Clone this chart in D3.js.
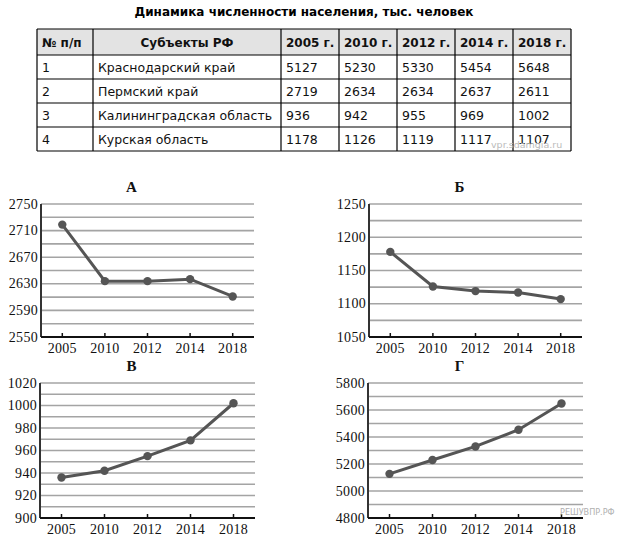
<!DOCTYPE html>
<html>
<head>
<meta charset="utf-8">
<script src="https://cdn.jsdelivr.net/npm/d3@7"></script>
<style>
  body { margin: 0; background: #fff; }
  svg { display: block; }
  .tbl text { font-family: "DejaVu Sans", Verdana, sans-serif; font-size: 12.5px; fill: #111; }
  .tbl .hd { font-weight: bold; font-size: 12px; }
  .ch text { font-family: "Liberation Serif", "Times New Roman", serif; fill: #111; }
</style>
</head>
<body>
<script>
var years = ['2005', '2010', '2012', '2014', '2018']
var regions = ['Краснодарский край', 'Пермский край', 'Калининградская область', 'Курская область']
var krasnodar = [5127, 5230, 5330, 5454, 5648]
var perm = [2719, 2634, 2634, 2637, 2611]
var kaliningrad = [936, 942, 955, 969, 1002]
var kursk = [1178, 1126, 1119, 1117, 1107]
var rows = [krasnodar, perm, kaliningrad, kursk]

// charts: title, values, y domain, grid step, label step
var charts = [
  {title: 'А', vals: perm, domain: [2550, 2750], grid: 20, lab: 40, x: 41, y: 204, w: 213, h: 133},
  {title: 'Б', vals: kursk, domain: [1050, 1250], grid: 25, lab: 50, x: 369, y: 204, w: 213, h: 133},
  {title: 'В', vals: kaliningrad, domain: [900, 1020], grid: 10, lab: 20, x: 40, y: 383, w: 215, h: 135},
  {title: 'Г', vals: krasnodar, domain: [4800, 5800], grid: 100, lab: 200, x: 368, y: 383, w: 215, h: 135}
]

var svg = d3.select('body').append('svg').attr('width', 635).attr('height', 546)

// title
svg.append('text')
  .attr('x', 304).attr('y', 16)
  .attr('text-anchor', 'middle')
  .style('font-family', '"DejaVu Sans", Verdana, sans-serif')
  .style('font-weight', 'bold').style('font-size', '12px')
  .text('Динамика численности населения, тыс. человек')

// table
var colX = [37, 93, 281, 339, 397, 455, 513, 571]
var rowY = [29, 55, 79, 103, 127, 151]
var tbl = svg.append('g').attr('class', 'tbl')

tbl.append('rect')
  .attr('x', colX[0]).attr('y', rowY[0])
  .attr('width', colX[7] - colX[0]).attr('height', rowY[1] - rowY[0])
  .attr('fill', '#e3e3e3')

var header = ['№ п/п', 'Субъекты РФ'].concat(years.map(d => d + ' г.'))
tbl.selectAll('text.hd').data(header).join('text')
  .attr('class', 'hd')
  .attr('x', (d, i) => i == 1 ? (colX[1] + colX[2]) / 2 : colX[i] + 5)
  .attr('text-anchor', (d, i) => i == 1 ? 'middle' : 'start')
  .attr('y', (rowY[0] + rowY[1]) / 2 + 5)
  .text(d => d)

rows.forEach((vals, r) => {
  var cells = [String(r + 1), regions[r]].concat(vals.map(String))
  tbl.selectAll('text.r' + r).data(cells).join('text')
    .attr('class', 'r' + r)
    .attr('x', (d, i) => colX[i] + 5)
    .attr('y', (rowY[r + 1] + rowY[r + 2]) / 2 + 5)
    .text(d => d)
})

tbl.selectAll('line.h').data(rowY).join('line')
  .attr('class', 'h')
  .attr('x1', colX[0]).attr('x2', colX[7])
  .attr('y1', d => d).attr('y2', d => d)
  .attr('stroke', '#000').attr('stroke-width', 1.2)
tbl.selectAll('line.v').data(colX).join('line')
  .attr('class', 'v')
  .attr('y1', rowY[0]).attr('y2', rowY[5])
  .attr('x1', d => d).attr('x2', d => d)
  .attr('stroke', '#000').attr('stroke-width', 1.2)

svg.append('text')
  .attr('x', 491).attr('y', 148)
  .style('font-family', '"DejaVu Sans", sans-serif').style('font-size', '9.5px')
  .attr('fill', '#bbb')
  .text('vpr.sdamgia.ru')

// line charts
charts.forEach(c => {
  var g = svg.append('g').attr('class', 'ch')
  var x = d3.scalePoint().domain(years).range([c.x, c.x + c.w]).padding(0.5)
  var y = d3.scaleLinear().domain(c.domain).range([c.y + c.h, c.y])

  var grid = d3.range(c.domain[0] + c.grid, c.domain[1] + c.grid / 2, c.grid)
  g.selectAll('line.grid').data(grid).join('line')
    .attr('x1', c.x).attr('x2', c.x + c.w)
    .attr('y1', d => y(d)).attr('y2', d => y(d))
    .attr('stroke', '#a4a4a4').attr('stroke-width', 1.6)

  var labs = d3.range(c.domain[0], c.domain[1] + c.lab / 2, c.lab)
  g.selectAll('text.yl').data(labs).join('text')
    .attr('x', c.x - 3).attr('y', d => y(d) + 4.5)
    .attr('text-anchor', 'end')
    .style('font-size', '14px').style('letter-spacing', '0.3px')
    .text(d => d)

  g.append('line')
    .attr('x1', c.x).attr('x2', c.x)
    .attr('y1', c.y).attr('y2', c.y + c.h)
    .attr('stroke', '#333').attr('stroke-width', 2)
  g.append('line')
    .attr('x1', c.x).attr('x2', c.x + c.w)
    .attr('y1', c.y + c.h).attr('y2', c.y + c.h)
    .attr('stroke', '#111').attr('stroke-width', 2)

  g.selectAll('line.tk').data(years).join('line')
    .attr('x1', d => x(d)).attr('x2', d => x(d))
    .attr('y1', c.y + c.h).attr('y2', c.y + c.h - 4)
    .attr('stroke', '#111').attr('stroke-width', 1.5)
  g.selectAll('text.xl').data(years).join('text')
    .attr('x', d => x(d)).attr('y', c.y + c.h + 16)
    .attr('text-anchor', 'middle')
    .style('font-size', '14px').style('letter-spacing', '0.3px')
    .text(d => d)

  g.append('text')
    .attr('x', c.x + c.w / 2 - 16).attr('y', c.y - 12)
    .attr('text-anchor', 'middle')
    .style('font-size', '15px').style('font-weight', 'bold')
    .text(c.title)

  g.append('path')
    .datum(c.vals)
    .attr('d', d3.line().x((d, i) => x(years[i])).y(d => y(d)))
    .attr('fill', 'none').attr('stroke', '#555').attr('stroke-width', 3)
  g.selectAll('circle').data(c.vals).join('circle')
    .attr('cx', (d, i) => x(years[i])).attr('cy', d => y(d))
    .attr('r', 4.2).attr('fill', '#555')
})

svg.append('text')
  .attr('x', 560).attr('y', 515)
  .style('font-family', '"DejaVu Sans Condensed", "DejaVu Sans", sans-serif').style('font-size', '9px')
  .attr('fill', '#b0b0b0')
  .text('РЕШУВПР.РФ')
</script>
</body>
</html>
